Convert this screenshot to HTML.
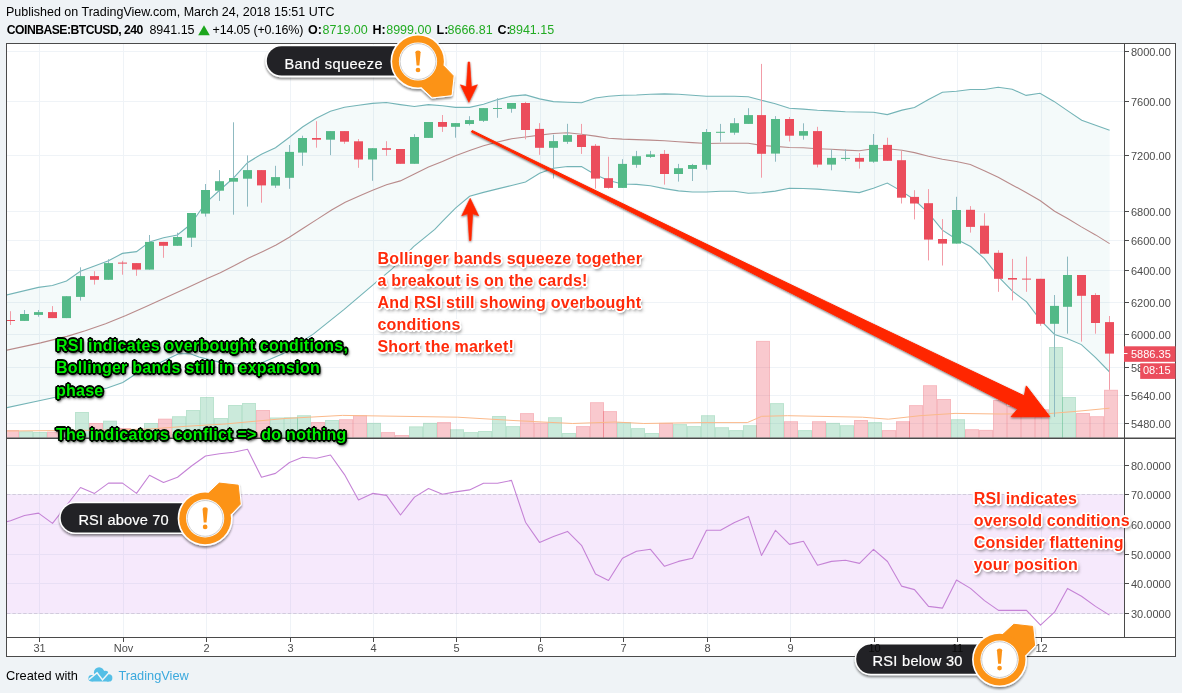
<!DOCTYPE html>
<html><head><meta charset="utf-8"><title>BTCUSD chart</title>
<style>
html,body{margin:0;padding:0}
body{width:1182px;height:693px;background:#eff3f6;position:relative;overflow:hidden;font-family:"Liberation Sans",sans-serif}
.ax{font-family:"Liberation Sans",sans-serif;font-size:11px;fill:#4c4c4c}
.co{font-family:"Liberation Sans",sans-serif;font-size:14.6px;fill:#fff;stroke:#fff;stroke-width:.2px}
.hd{position:absolute;white-space:pre;font-family:"Liberation Sans",sans-serif;font-size:12.5px;color:#000;line-height:16px}
.hd b{font-weight:bold}
.g{color:#22ab22}
.note{position:absolute;white-space:pre;font-family:"Liberation Sans",sans-serif;font-weight:bold;font-size:16px;line-height:22px;letter-spacing:.22px}
.red{color:#ff2a0a;text-shadow:1.00px 0.00px 0 #fff,0.71px 0.71px 0 #fff,0.00px 1.00px 0 #fff,-0.71px 0.71px 0 #fff,-1.00px 0.00px 0 #fff,-0.71px -0.71px 0 #fff,-0.00px -1.00px 0 #fff,0.71px -0.71px 0 #fff,1.70px 0.00px 0 #fff,1.47px 0.85px 0 #fff,0.85px 1.47px 0 #fff,0.00px 1.70px 0 #fff,-0.85px 1.47px 0 #fff,-1.47px 0.85px 0 #fff,-1.70px 0.00px 0 #fff,-1.47px -0.85px 0 #fff,-0.85px -1.47px 0 #fff,-0.00px -1.70px 0 #fff,0.85px -1.47px 0 #fff,1.47px -0.85px 0 #fff,0 0 2.5px #fff,1.5px 3px 3px rgba(60,60,60,.55),1px 2px 4px rgba(60,60,60,.35)}
.grn{color:#00f000;text-shadow:1.00px 0.00px 0 #000,0.71px 0.71px 0 #000,0.00px 1.00px 0 #000,-0.71px 0.71px 0 #000,-1.00px 0.00px 0 #000,-0.71px -0.71px 0 #000,-0.00px -1.00px 0 #000,0.71px -0.71px 0 #000,1.60px 0.00px 0 #001500,1.39px 0.80px 0 #001500,0.80px 1.39px 0 #001500,0.00px 1.60px 0 #001500,-0.80px 1.39px 0 #001500,-1.39px 0.80px 0 #001500,-1.60px 0.00px 0 #001500,-1.39px -0.80px 0 #001500,-0.80px -1.39px 0 #001500,-0.00px -1.60px 0 #001500,0.80px -1.39px 0 #001500,1.39px -0.80px 0 #001500,0 0 2.5px #000,1px 1.5px 3px #000,1px 2px 3.5px rgba(0,0,0,.8)}
</style></head><body>
<svg width="1182" height="693" viewBox="0 0 1182 693" style="position:absolute;left:0;top:0">
<defs>
<clipPath id="pm"><rect x="7" y="44" width="1118" height="394"/></clipPath>
<clipPath id="pr"><rect x="7" y="439" width="1118" height="198"/></clipPath>
<filter id="sh" x="-20%" y="-20%" width="140%" height="150%"><feGaussianBlur in="SourceAlpha" stdDeviation="1.2"/><feOffset dx="0" dy="1.5"/><feComponentTransfer><feFuncA type="linear" slope="0.45"/></feComponentTransfer><feMerge><feMergeNode/><feMergeNode in="SourceGraphic"/></feMerge></filter>
<filter id="ash" x="-5%" y="-5%" width="110%" height="115%"><feGaussianBlur in="SourceAlpha" stdDeviation="0.9"/><feOffset dx="0.4" dy="1"/><feComponentTransfer><feFuncA type="linear" slope="0.55"/></feComponentTransfer><feMerge><feMergeNode/><feMergeNode in="SourceGraphic"/></feMerge></filter>
</defs>
<rect x="6.5" y="43.5" width="1169" height="613" fill="#fff"/>
<g clip-path="url(#pm)">
<line x1="39.5" y1="44" x2="39.5" y2="438" stroke="#eff3f7" stroke-width="1"/>
<line x1="123.5" y1="44" x2="123.5" y2="438" stroke="#eff3f7" stroke-width="1"/>
<line x1="206.5" y1="44" x2="206.5" y2="438" stroke="#eff3f7" stroke-width="1"/>
<line x1="290.5" y1="44" x2="290.5" y2="438" stroke="#eff3f7" stroke-width="1"/>
<line x1="373.5" y1="44" x2="373.5" y2="438" stroke="#eff3f7" stroke-width="1"/>
<line x1="456.5" y1="44" x2="456.5" y2="438" stroke="#eff3f7" stroke-width="1"/>
<line x1="540.5" y1="44" x2="540.5" y2="438" stroke="#eff3f7" stroke-width="1"/>
<line x1="623.5" y1="44" x2="623.5" y2="438" stroke="#eff3f7" stroke-width="1"/>
<line x1="707.5" y1="44" x2="707.5" y2="438" stroke="#eff3f7" stroke-width="1"/>
<line x1="790.5" y1="44" x2="790.5" y2="438" stroke="#eff3f7" stroke-width="1"/>
<line x1="874.5" y1="44" x2="874.5" y2="438" stroke="#eff3f7" stroke-width="1"/>
<line x1="957.5" y1="44" x2="957.5" y2="438" stroke="#eff3f7" stroke-width="1"/>
<line x1="1041.5" y1="44" x2="1041.5" y2="438" stroke="#eff3f7" stroke-width="1"/>
<line x1="7" y1="51.5" x2="1125" y2="51.5" stroke="#eff3f7" stroke-width="1"/>
<line x1="7" y1="101.5" x2="1125" y2="101.5" stroke="#eff3f7" stroke-width="1"/>
<line x1="7" y1="155.5" x2="1125" y2="155.5" stroke="#eff3f7" stroke-width="1"/>
<line x1="7" y1="211.5" x2="1125" y2="211.5" stroke="#eff3f7" stroke-width="1"/>
<line x1="7" y1="240.5" x2="1125" y2="240.5" stroke="#eff3f7" stroke-width="1"/>
<line x1="7" y1="270.5" x2="1125" y2="270.5" stroke="#eff3f7" stroke-width="1"/>
<line x1="7" y1="302.5" x2="1125" y2="302.5" stroke="#eff3f7" stroke-width="1"/>
<line x1="7" y1="334.5" x2="1125" y2="334.5" stroke="#eff3f7" stroke-width="1"/>
<line x1="7" y1="367.5" x2="1125" y2="367.5" stroke="#eff3f7" stroke-width="1"/>
<line x1="7" y1="395.5" x2="1125" y2="395.5" stroke="#eff3f7" stroke-width="1"/>
<line x1="7" y1="423.5" x2="1125" y2="423.5" stroke="#eff3f7" stroke-width="1"/>
<polygon points="6.5,295.0 38.4,287.4 52.4,285.5 66.5,281.0 80.4,271.2 94.5,266.0 108.5,260.8 122.4,253.4 136.5,251.6 149.6,241.9 163.5,237.7 177.4,235.0 187.0,227.3 195.8,217.0 205.5,203.0 219.3,190.5 233.4,178.0 247.5,162.7 261.4,154.2 275.5,147.7 289.5,137.3 302.5,127.0 316.3,118.2 330.4,111.2 344.5,107.3 358.6,105.2 372.4,103.4 386.3,102.5 400.3,104.6 414.4,106.5 428.5,104.6 442.4,105.8 455.5,107.4 469.6,107.4 483.5,104.2 497.6,99.6 511.6,96.1 525.5,94.9 539.6,98.9 553.4,101.6 567.5,102.3 581.5,102.7 595.4,98.0 608.6,96.2 622.4,95.3 636.5,95.0 650.4,94.3 664.5,93.9 678.5,94.3 692.4,95.3 706.5,96.2 720.6,96.2 734.4,96.2 748.3,96.7 761.5,100.3 775.3,103.7 789.4,108.3 803.3,109.1 817.4,110.3 831.3,110.9 845.4,111.7 859.3,112.0 873.4,112.3 887.3,114.6 902.0,110.1 914.5,107.5 928.5,99.4 942.4,92.3 956.4,91.3 970.3,89.5 984.3,89.5 998.2,87.3 1012.2,89.3 1026.1,95.4 1040.0,93.3 1054.0,101.4 1067.8,110.9 1081.7,120.2 1095.6,125.3 1109.6,130.3 1109.6,372.0 1095.6,357.6 1081.4,344.6 1067.6,338.8 1054.6,334.5 1040.4,320.1 1026.6,301.9 1012.4,291.2 998.6,276.8 984.4,258.6 970.6,246.5 956.5,239.3 942.4,230.1 928.3,212.8 914.4,199.8 901.4,191.1 887.3,183.0 873.4,188.2 859.3,192.6 845.4,191.4 831.3,190.2 817.4,189.1 803.3,188.5 789.4,188.2 775.3,191.1 761.5,192.7 748.3,193.2 734.4,191.3 720.6,191.3 706.5,192.0 692.4,192.0 678.5,190.9 664.5,188.6 650.4,185.8 636.5,184.4 622.4,184.0 608.6,180.5 595.4,174.7 581.5,166.6 567.5,166.5 553.4,168.2 539.6,173.2 525.5,182.0 511.6,185.5 497.6,188.9 483.5,192.4 469.6,196.3 455.5,208.1 442.4,221.3 434.8,229.4 413.6,246.6 392.4,268.7 374.2,283.9 343.9,309.7 313.6,333.9 283.3,353.6 262.0,362.7 250.0,364.0 236.0,363.8 219.2,362.1 198.9,357.0 190.4,353.7 178.6,353.7 171.8,357.0 153.0,366.0 134.6,374.8 122.8,382.5 105.8,388.4 80.0,392.0 55.4,397.3 39.1,400.8 6.5,407.7" fill="#2f9c9f" fill-opacity="0.055"/>
<rect x="5.0" y="430.0" width="14" height="7.5" fill="#eb4d5c" fill-opacity="0.3"/>
<rect x="5.5" y="430.5" width="13" height="7.5" fill="none" stroke="#eb4d5c" stroke-opacity="0.13" stroke-width="1"/>
<rect x="19.0" y="431.2" width="14" height="6.3" fill="#53b987" fill-opacity="0.3"/>
<rect x="19.5" y="431.7" width="13" height="6.3" fill="none" stroke="#53b987" stroke-opacity="0.13" stroke-width="1"/>
<rect x="33.0" y="432.0" width="14" height="5.5" fill="#53b987" fill-opacity="0.3"/>
<rect x="33.5" y="432.5" width="13" height="5.5" fill="none" stroke="#53b987" stroke-opacity="0.13" stroke-width="1"/>
<rect x="47.0" y="431.7" width="14" height="5.8" fill="#eb4d5c" fill-opacity="0.3"/>
<rect x="47.5" y="432.2" width="13" height="5.8" fill="none" stroke="#eb4d5c" stroke-opacity="0.13" stroke-width="1"/>
<rect x="61.0" y="430.0" width="14" height="7.5" fill="#53b987" fill-opacity="0.3"/>
<rect x="61.5" y="430.5" width="13" height="7.5" fill="none" stroke="#53b987" stroke-opacity="0.13" stroke-width="1"/>
<rect x="75.0" y="412.0" width="14" height="25.5" fill="#53b987" fill-opacity="0.3"/>
<rect x="75.5" y="412.5" width="13" height="25.5" fill="none" stroke="#53b987" stroke-opacity="0.13" stroke-width="1"/>
<rect x="89.0" y="423.0" width="14" height="14.5" fill="#eb4d5c" fill-opacity="0.3"/>
<rect x="89.5" y="423.5" width="13" height="14.5" fill="none" stroke="#eb4d5c" stroke-opacity="0.13" stroke-width="1"/>
<rect x="103.0" y="420.7" width="14" height="16.8" fill="#53b987" fill-opacity="0.3"/>
<rect x="103.5" y="421.2" width="13" height="16.8" fill="none" stroke="#53b987" stroke-opacity="0.13" stroke-width="1"/>
<rect x="117.0" y="428.0" width="14" height="9.5" fill="#eb4d5c" fill-opacity="0.3"/>
<rect x="117.5" y="428.5" width="13" height="9.5" fill="none" stroke="#eb4d5c" stroke-opacity="0.13" stroke-width="1"/>
<rect x="131.0" y="430.0" width="14" height="7.5" fill="#eb4d5c" fill-opacity="0.3"/>
<rect x="131.5" y="430.5" width="13" height="7.5" fill="none" stroke="#eb4d5c" stroke-opacity="0.13" stroke-width="1"/>
<rect x="144.0" y="423.0" width="14" height="14.5" fill="#53b987" fill-opacity="0.3"/>
<rect x="144.5" y="423.5" width="13" height="14.5" fill="none" stroke="#53b987" stroke-opacity="0.13" stroke-width="1"/>
<rect x="158.0" y="418.7" width="14" height="18.8" fill="#eb4d5c" fill-opacity="0.3"/>
<rect x="158.5" y="419.2" width="13" height="18.8" fill="none" stroke="#eb4d5c" stroke-opacity="0.13" stroke-width="1"/>
<rect x="172.0" y="416.2" width="14" height="21.3" fill="#53b987" fill-opacity="0.3"/>
<rect x="172.5" y="416.7" width="13" height="21.3" fill="none" stroke="#53b987" stroke-opacity="0.13" stroke-width="1"/>
<rect x="186.0" y="410.0" width="14" height="27.5" fill="#53b987" fill-opacity="0.3"/>
<rect x="186.5" y="410.5" width="13" height="27.5" fill="none" stroke="#53b987" stroke-opacity="0.13" stroke-width="1"/>
<rect x="200.0" y="397.0" width="14" height="40.5" fill="#53b987" fill-opacity="0.3"/>
<rect x="200.5" y="397.5" width="13" height="40.5" fill="none" stroke="#53b987" stroke-opacity="0.13" stroke-width="1"/>
<rect x="214.0" y="418.0" width="14" height="19.5" fill="#53b987" fill-opacity="0.3"/>
<rect x="214.5" y="418.5" width="13" height="19.5" fill="none" stroke="#53b987" stroke-opacity="0.13" stroke-width="1"/>
<rect x="228.0" y="405.0" width="14" height="32.5" fill="#53b987" fill-opacity="0.3"/>
<rect x="228.5" y="405.5" width="13" height="32.5" fill="none" stroke="#53b987" stroke-opacity="0.13" stroke-width="1"/>
<rect x="242.0" y="403.0" width="14" height="34.5" fill="#53b987" fill-opacity="0.3"/>
<rect x="242.5" y="403.5" width="13" height="34.5" fill="none" stroke="#53b987" stroke-opacity="0.13" stroke-width="1"/>
<rect x="256.0" y="410.0" width="14" height="27.5" fill="#eb4d5c" fill-opacity="0.3"/>
<rect x="256.5" y="410.5" width="13" height="27.5" fill="none" stroke="#eb4d5c" stroke-opacity="0.13" stroke-width="1"/>
<rect x="270.0" y="417.5" width="14" height="20.0" fill="#53b987" fill-opacity="0.3"/>
<rect x="270.5" y="418.0" width="13" height="20.0" fill="none" stroke="#53b987" stroke-opacity="0.13" stroke-width="1"/>
<rect x="284.0" y="417.2" width="14" height="20.3" fill="#53b987" fill-opacity="0.3"/>
<rect x="284.5" y="417.7" width="13" height="20.3" fill="none" stroke="#53b987" stroke-opacity="0.13" stroke-width="1"/>
<rect x="297.0" y="415.2" width="14" height="22.3" fill="#53b987" fill-opacity="0.3"/>
<rect x="297.5" y="415.7" width="13" height="22.3" fill="none" stroke="#53b987" stroke-opacity="0.13" stroke-width="1"/>
<rect x="311.0" y="422.0" width="14" height="15.5" fill="#eb4d5c" fill-opacity="0.3"/>
<rect x="311.5" y="422.5" width="13" height="15.5" fill="none" stroke="#eb4d5c" stroke-opacity="0.13" stroke-width="1"/>
<rect x="325.0" y="420.0" width="14" height="17.5" fill="#53b987" fill-opacity="0.3"/>
<rect x="325.5" y="420.5" width="13" height="17.5" fill="none" stroke="#53b987" stroke-opacity="0.13" stroke-width="1"/>
<rect x="339.0" y="419.2" width="14" height="18.3" fill="#eb4d5c" fill-opacity="0.3"/>
<rect x="339.5" y="419.7" width="13" height="18.3" fill="none" stroke="#eb4d5c" stroke-opacity="0.13" stroke-width="1"/>
<rect x="353.0" y="415.2" width="14" height="22.3" fill="#eb4d5c" fill-opacity="0.3"/>
<rect x="353.5" y="415.7" width="13" height="22.3" fill="none" stroke="#eb4d5c" stroke-opacity="0.13" stroke-width="1"/>
<rect x="367.0" y="422.9" width="14" height="14.6" fill="#53b987" fill-opacity="0.3"/>
<rect x="367.5" y="423.4" width="13" height="14.6" fill="none" stroke="#53b987" stroke-opacity="0.13" stroke-width="1"/>
<rect x="381.0" y="432.1" width="14" height="5.4" fill="#eb4d5c" fill-opacity="0.3"/>
<rect x="381.5" y="432.6" width="13" height="5.4" fill="none" stroke="#eb4d5c" stroke-opacity="0.13" stroke-width="1"/>
<rect x="395.0" y="435.0" width="14" height="2.5" fill="#eb4d5c" fill-opacity="0.3"/>
<rect x="395.5" y="435.5" width="13" height="2.5" fill="none" stroke="#eb4d5c" stroke-opacity="0.13" stroke-width="1"/>
<rect x="409.0" y="426.4" width="14" height="11.1" fill="#53b987" fill-opacity="0.3"/>
<rect x="409.5" y="426.9" width="13" height="11.1" fill="none" stroke="#53b987" stroke-opacity="0.13" stroke-width="1"/>
<rect x="423.0" y="422.9" width="14" height="14.6" fill="#53b987" fill-opacity="0.3"/>
<rect x="423.5" y="423.4" width="13" height="14.6" fill="none" stroke="#53b987" stroke-opacity="0.13" stroke-width="1"/>
<rect x="437.0" y="422.1" width="14" height="15.4" fill="#eb4d5c" fill-opacity="0.3"/>
<rect x="437.5" y="422.6" width="13" height="15.4" fill="none" stroke="#eb4d5c" stroke-opacity="0.13" stroke-width="1"/>
<rect x="450.0" y="429.3" width="14" height="8.2" fill="#53b987" fill-opacity="0.3"/>
<rect x="450.5" y="429.8" width="13" height="8.2" fill="none" stroke="#53b987" stroke-opacity="0.13" stroke-width="1"/>
<rect x="464.0" y="432.1" width="14" height="5.4" fill="#53b987" fill-opacity="0.3"/>
<rect x="464.5" y="432.6" width="13" height="5.4" fill="none" stroke="#53b987" stroke-opacity="0.13" stroke-width="1"/>
<rect x="478.0" y="431.0" width="14" height="6.5" fill="#53b987" fill-opacity="0.3"/>
<rect x="478.5" y="431.5" width="13" height="6.5" fill="none" stroke="#53b987" stroke-opacity="0.13" stroke-width="1"/>
<rect x="492.0" y="416.0" width="14" height="21.5" fill="#53b987" fill-opacity="0.3"/>
<rect x="492.5" y="416.5" width="13" height="21.5" fill="none" stroke="#53b987" stroke-opacity="0.13" stroke-width="1"/>
<rect x="506.0" y="426.1" width="14" height="11.4" fill="#53b987" fill-opacity="0.3"/>
<rect x="506.5" y="426.6" width="13" height="11.4" fill="none" stroke="#53b987" stroke-opacity="0.13" stroke-width="1"/>
<rect x="520.0" y="413.1" width="14" height="24.4" fill="#eb4d5c" fill-opacity="0.3"/>
<rect x="520.5" y="413.6" width="13" height="24.4" fill="none" stroke="#eb4d5c" stroke-opacity="0.13" stroke-width="1"/>
<rect x="534.0" y="422.6" width="14" height="14.9" fill="#eb4d5c" fill-opacity="0.3"/>
<rect x="534.5" y="423.1" width="13" height="14.9" fill="none" stroke="#eb4d5c" stroke-opacity="0.13" stroke-width="1"/>
<rect x="548.0" y="417.2" width="14" height="20.3" fill="#53b987" fill-opacity="0.3"/>
<rect x="548.5" y="417.7" width="13" height="20.3" fill="none" stroke="#53b987" stroke-opacity="0.13" stroke-width="1"/>
<rect x="562.0" y="433.0" width="14" height="4.5" fill="#53b987" fill-opacity="0.3"/>
<rect x="562.5" y="433.5" width="13" height="4.5" fill="none" stroke="#53b987" stroke-opacity="0.13" stroke-width="1"/>
<rect x="576.0" y="426.1" width="14" height="11.4" fill="#eb4d5c" fill-opacity="0.3"/>
<rect x="576.5" y="426.6" width="13" height="11.4" fill="none" stroke="#eb4d5c" stroke-opacity="0.13" stroke-width="1"/>
<rect x="590.0" y="402.2" width="14" height="35.3" fill="#eb4d5c" fill-opacity="0.3"/>
<rect x="590.5" y="402.7" width="13" height="35.3" fill="none" stroke="#eb4d5c" stroke-opacity="0.13" stroke-width="1"/>
<rect x="603.0" y="411.1" width="14" height="26.4" fill="#eb4d5c" fill-opacity="0.3"/>
<rect x="603.5" y="411.6" width="13" height="26.4" fill="none" stroke="#eb4d5c" stroke-opacity="0.13" stroke-width="1"/>
<rect x="617.0" y="422.1" width="14" height="15.4" fill="#53b987" fill-opacity="0.3"/>
<rect x="617.5" y="422.6" width="13" height="15.4" fill="none" stroke="#53b987" stroke-opacity="0.13" stroke-width="1"/>
<rect x="631.0" y="428.1" width="14" height="9.4" fill="#53b987" fill-opacity="0.3"/>
<rect x="631.5" y="428.6" width="13" height="9.4" fill="none" stroke="#53b987" stroke-opacity="0.13" stroke-width="1"/>
<rect x="645.0" y="433.0" width="14" height="4.5" fill="#53b987" fill-opacity="0.3"/>
<rect x="645.5" y="433.5" width="13" height="4.5" fill="none" stroke="#53b987" stroke-opacity="0.13" stroke-width="1"/>
<rect x="659.0" y="422.9" width="14" height="14.6" fill="#eb4d5c" fill-opacity="0.3"/>
<rect x="659.5" y="423.4" width="13" height="14.6" fill="none" stroke="#eb4d5c" stroke-opacity="0.13" stroke-width="1"/>
<rect x="673.0" y="424.1" width="14" height="13.4" fill="#53b987" fill-opacity="0.3"/>
<rect x="673.5" y="424.6" width="13" height="13.4" fill="none" stroke="#53b987" stroke-opacity="0.13" stroke-width="1"/>
<rect x="687.0" y="426.1" width="14" height="11.4" fill="#53b987" fill-opacity="0.3"/>
<rect x="687.5" y="426.6" width="13" height="11.4" fill="none" stroke="#53b987" stroke-opacity="0.13" stroke-width="1"/>
<rect x="701.0" y="415.2" width="14" height="22.3" fill="#53b987" fill-opacity="0.3"/>
<rect x="701.5" y="415.7" width="13" height="22.3" fill="none" stroke="#53b987" stroke-opacity="0.13" stroke-width="1"/>
<rect x="715.0" y="427.2" width="14" height="10.3" fill="#53b987" fill-opacity="0.3"/>
<rect x="715.5" y="427.7" width="13" height="10.3" fill="none" stroke="#53b987" stroke-opacity="0.13" stroke-width="1"/>
<rect x="729.0" y="430.1" width="14" height="7.4" fill="#53b987" fill-opacity="0.3"/>
<rect x="729.5" y="430.6" width="13" height="7.4" fill="none" stroke="#53b987" stroke-opacity="0.13" stroke-width="1"/>
<rect x="743.0" y="425.2" width="14" height="12.3" fill="#53b987" fill-opacity="0.3"/>
<rect x="743.5" y="425.7" width="13" height="12.3" fill="none" stroke="#53b987" stroke-opacity="0.13" stroke-width="1"/>
<rect x="756.0" y="340.9" width="14" height="96.6" fill="#eb4d5c" fill-opacity="0.3"/>
<rect x="756.5" y="341.4" width="13" height="96.6" fill="none" stroke="#eb4d5c" stroke-opacity="0.13" stroke-width="1"/>
<rect x="770.0" y="403.1" width="14" height="34.4" fill="#53b987" fill-opacity="0.3"/>
<rect x="770.5" y="403.6" width="13" height="34.4" fill="none" stroke="#53b987" stroke-opacity="0.13" stroke-width="1"/>
<rect x="784.0" y="421.2" width="14" height="16.3" fill="#eb4d5c" fill-opacity="0.3"/>
<rect x="784.5" y="421.7" width="13" height="16.3" fill="none" stroke="#eb4d5c" stroke-opacity="0.13" stroke-width="1"/>
<rect x="798.0" y="430.1" width="14" height="7.4" fill="#53b987" fill-opacity="0.3"/>
<rect x="798.5" y="430.6" width="13" height="7.4" fill="none" stroke="#53b987" stroke-opacity="0.13" stroke-width="1"/>
<rect x="812.0" y="421.2" width="14" height="16.3" fill="#eb4d5c" fill-opacity="0.3"/>
<rect x="812.5" y="421.7" width="13" height="16.3" fill="none" stroke="#eb4d5c" stroke-opacity="0.13" stroke-width="1"/>
<rect x="826.0" y="422.9" width="14" height="14.6" fill="#53b987" fill-opacity="0.3"/>
<rect x="826.5" y="423.4" width="13" height="14.6" fill="none" stroke="#53b987" stroke-opacity="0.13" stroke-width="1"/>
<rect x="840.0" y="425.2" width="14" height="12.3" fill="#53b987" fill-opacity="0.3"/>
<rect x="840.5" y="425.7" width="13" height="12.3" fill="none" stroke="#53b987" stroke-opacity="0.13" stroke-width="1"/>
<rect x="854.0" y="420.0" width="14" height="17.5" fill="#eb4d5c" fill-opacity="0.3"/>
<rect x="854.5" y="420.5" width="13" height="17.5" fill="none" stroke="#eb4d5c" stroke-opacity="0.13" stroke-width="1"/>
<rect x="868.0" y="422.1" width="14" height="15.4" fill="#53b987" fill-opacity="0.3"/>
<rect x="868.5" y="422.6" width="13" height="15.4" fill="none" stroke="#53b987" stroke-opacity="0.13" stroke-width="1"/>
<rect x="882.0" y="430.1" width="14" height="7.4" fill="#eb4d5c" fill-opacity="0.3"/>
<rect x="882.5" y="430.6" width="13" height="7.4" fill="none" stroke="#eb4d5c" stroke-opacity="0.13" stroke-width="1"/>
<rect x="896.0" y="421.2" width="14" height="16.3" fill="#eb4d5c" fill-opacity="0.3"/>
<rect x="896.5" y="421.7" width="13" height="16.3" fill="none" stroke="#eb4d5c" stroke-opacity="0.13" stroke-width="1"/>
<rect x="909.0" y="405.1" width="14" height="32.4" fill="#eb4d5c" fill-opacity="0.3"/>
<rect x="909.5" y="405.6" width="13" height="32.4" fill="none" stroke="#eb4d5c" stroke-opacity="0.13" stroke-width="1"/>
<rect x="923.0" y="385.2" width="14" height="52.3" fill="#eb4d5c" fill-opacity="0.3"/>
<rect x="923.5" y="385.7" width="13" height="52.3" fill="none" stroke="#eb4d5c" stroke-opacity="0.13" stroke-width="1"/>
<rect x="937.0" y="399.0" width="14" height="38.5" fill="#eb4d5c" fill-opacity="0.3"/>
<rect x="937.5" y="399.5" width="13" height="38.5" fill="none" stroke="#eb4d5c" stroke-opacity="0.13" stroke-width="1"/>
<rect x="951.0" y="419.2" width="14" height="18.3" fill="#53b987" fill-opacity="0.3"/>
<rect x="951.5" y="419.7" width="13" height="18.3" fill="none" stroke="#53b987" stroke-opacity="0.13" stroke-width="1"/>
<rect x="965.0" y="429.2" width="14" height="8.3" fill="#eb4d5c" fill-opacity="0.3"/>
<rect x="965.5" y="429.7" width="13" height="8.3" fill="none" stroke="#eb4d5c" stroke-opacity="0.13" stroke-width="1"/>
<rect x="979.0" y="429.9" width="14" height="7.6" fill="#eb4d5c" fill-opacity="0.3"/>
<rect x="979.5" y="430.4" width="13" height="7.6" fill="none" stroke="#eb4d5c" stroke-opacity="0.13" stroke-width="1"/>
<rect x="993.0" y="400.0" width="14" height="37.5" fill="#eb4d5c" fill-opacity="0.3"/>
<rect x="993.5" y="400.5" width="13" height="37.5" fill="none" stroke="#eb4d5c" stroke-opacity="0.13" stroke-width="1"/>
<rect x="1007.0" y="406.0" width="14" height="31.5" fill="#eb4d5c" fill-opacity="0.3"/>
<rect x="1007.5" y="406.5" width="13" height="31.5" fill="none" stroke="#eb4d5c" stroke-opacity="0.13" stroke-width="1"/>
<rect x="1021.0" y="408.0" width="14" height="29.5" fill="#eb4d5c" fill-opacity="0.3"/>
<rect x="1021.5" y="408.5" width="13" height="29.5" fill="none" stroke="#eb4d5c" stroke-opacity="0.13" stroke-width="1"/>
<rect x="1035.0" y="409.3" width="14" height="28.2" fill="#eb4d5c" fill-opacity="0.3"/>
<rect x="1035.5" y="409.8" width="13" height="28.2" fill="none" stroke="#eb4d5c" stroke-opacity="0.13" stroke-width="1"/>
<rect x="1049.0" y="347.0" width="14" height="90.5" fill="#53b987" fill-opacity="0.3"/>
<rect x="1049.5" y="347.5" width="13" height="90.5" fill="none" stroke="#53b987" stroke-opacity="0.13" stroke-width="1"/>
<rect x="1062.0" y="397.0" width="14" height="40.5" fill="#53b987" fill-opacity="0.3"/>
<rect x="1062.5" y="397.5" width="13" height="40.5" fill="none" stroke="#53b987" stroke-opacity="0.13" stroke-width="1"/>
<rect x="1076.0" y="413.0" width="14" height="24.5" fill="#eb4d5c" fill-opacity="0.3"/>
<rect x="1076.5" y="413.5" width="13" height="24.5" fill="none" stroke="#eb4d5c" stroke-opacity="0.13" stroke-width="1"/>
<rect x="1090.0" y="416.2" width="14" height="21.3" fill="#eb4d5c" fill-opacity="0.3"/>
<rect x="1090.5" y="416.7" width="13" height="21.3" fill="none" stroke="#eb4d5c" stroke-opacity="0.13" stroke-width="1"/>
<rect x="1104.0" y="389.8" width="14" height="47.7" fill="#eb4d5c" fill-opacity="0.3"/>
<rect x="1104.5" y="390.3" width="13" height="47.7" fill="none" stroke="#eb4d5c" stroke-opacity="0.13" stroke-width="1"/>
<polyline points="6.5,431.0 100.0,430.2 150.0,429.0 186.0,426.3 225.0,424.0 263.0,420.5 285.0,418.5 342.5,415.4 400.0,416.3 457.6,417.2 515.0,420.6 572.7,423.5 615.0,422.0 643.8,423.5 701.3,422.6 747.3,422.6 761.7,416.3 787.6,415.7 862.4,417.2 888.3,419.2 920.0,415.7 955.0,413.4 1000.0,414.0 1049.0,413.6 1080.0,411.0 1109.5,408.2" fill="none" stroke="#fbb98a" stroke-width="1"/>
<polyline points="6.5,295.0 38.4,287.4 52.4,285.5 66.5,281.0 80.4,271.2 94.5,266.0 108.5,260.8 122.4,253.4 136.5,251.6 149.6,241.9 163.5,237.7 177.4,235.0 187.0,227.3 195.8,217.0 205.5,203.0 219.3,190.5 233.4,178.0 247.5,162.7 261.4,154.2 275.5,147.7 289.5,137.3 302.5,127.0 316.3,118.2 330.4,111.2 344.5,107.3 358.6,105.2 372.4,103.4 386.3,102.5 400.3,104.6 414.4,106.5 428.5,104.6 442.4,105.8 455.5,107.4 469.6,107.4 483.5,104.2 497.6,99.6 511.6,96.1 525.5,94.9 539.6,98.9 553.4,101.6 567.5,102.3 581.5,102.7 595.4,98.0 608.6,96.2 622.4,95.3 636.5,95.0 650.4,94.3 664.5,93.9 678.5,94.3 692.4,95.3 706.5,96.2 720.6,96.2 734.4,96.2 748.3,96.7 761.5,100.3 775.3,103.7 789.4,108.3 803.3,109.1 817.4,110.3 831.3,110.9 845.4,111.7 859.3,112.0 873.4,112.3 887.3,114.6 902.0,110.1 914.5,107.5 928.5,99.4 942.4,92.3 956.4,91.3 970.3,89.5 984.3,89.5 998.2,87.3 1012.2,89.3 1026.1,95.4 1040.0,93.3 1054.0,101.4 1067.8,110.9 1081.7,120.2 1095.6,125.3 1109.6,130.3" fill="none" stroke="#74b4b7" stroke-width="1.1"/>
<polyline points="6.5,407.7 39.1,400.8 55.4,397.3 80.0,392.0 105.8,388.4 122.8,382.5 134.6,374.8 153.0,366.0 171.8,357.0 178.6,353.7 190.4,353.7 198.9,357.0 219.2,362.1 236.0,363.8 250.0,364.0 262.0,362.7 283.3,353.6 313.6,333.9 343.9,309.7 374.2,283.9 392.4,268.7 413.6,246.6 434.8,229.4 442.4,221.3 455.5,208.1 469.6,196.3 483.5,192.4 497.6,188.9 511.6,185.5 525.5,182.0 539.6,173.2 553.4,168.2 567.5,166.5 581.5,166.6 595.4,174.7 608.6,180.5 622.4,184.0 636.5,184.4 650.4,185.8 664.5,188.6 678.5,190.9 692.4,192.0 706.5,192.0 720.6,191.3 734.4,191.3 748.3,193.2 761.5,192.7 775.3,191.1 789.4,188.2 803.3,188.5 817.4,189.1 831.3,190.2 845.4,191.4 859.3,192.6 873.4,188.2 887.3,183.0 901.4,191.1 914.4,199.8 928.3,212.8 942.4,230.1 956.5,239.3 970.6,246.5 984.4,258.6 998.6,276.8 1012.4,291.2 1026.6,301.9 1040.4,320.1 1054.6,334.5 1067.6,338.8 1081.4,344.6 1095.6,357.6 1109.6,372.0" fill="none" stroke="#74b4b7" stroke-width="1.1"/>
<polyline points="6.5,350.2 40.6,342.9 67.0,336.4 85.3,330.8 105.6,323.7 125.9,315.5 146.2,306.4 166.5,297.3 186.8,288.1 207.7,278.2 220.3,272.7 234.5,265.6 248.7,258.1 262.9,251.4 276.1,244.9 289.3,237.2 303.6,228.0 317.8,218.9 332.0,209.7 345.2,202.2 360.4,195.5 372.6,190.3 386.5,184.7 400.3,180.9 414.4,173.9 428.5,167.0 442.4,161.4 455.5,155.7 469.6,150.4 483.5,145.7 497.6,142.0 511.6,138.8 525.5,137.0 539.6,135.1 553.4,133.5 567.5,132.8 581.5,134.3 595.4,136.1 608.6,138.2 622.4,139.1 636.5,139.6 650.4,140.1 664.5,140.8 678.5,141.7 692.4,142.6 706.5,143.5 720.6,143.3 734.4,143.3 748.3,143.3 761.5,145.4 775.3,146.4 789.4,147.5 803.3,147.8 817.4,148.7 831.3,149.3 845.4,150.1 859.3,150.7 873.4,148.7 887.3,148.7 902.0,150.3 914.5,152.6 928.5,156.2 942.4,159.2 956.4,161.5 970.3,164.5 984.3,170.8 998.2,177.2 1012.2,184.9 1026.1,192.4 1040.0,200.5 1054.6,211.3 1067.6,218.5 1081.4,226.9 1095.6,234.9 1109.6,243.6" fill="none" stroke="#b98b8b" stroke-width="1.1"/>
<rect x="10" y="311.2" width="1" height="13.8" fill="#f29ca7"/>
<rect x="6" y="320.0" width="9" height="1.0" fill="#eb4d5c"/>
<rect x="24" y="310.0" width="1" height="10.9" fill="#8fbac1"/>
<rect x="20" y="314.0" width="9" height="6.9" fill="#53b987"/>
<rect x="38" y="310.0" width="1" height="6.7" fill="#8fbac1"/>
<rect x="34" y="312.1" width="9" height="2.8" fill="#53b987"/>
<rect x="52" y="306.1" width="1" height="12.0" fill="#f29ca7"/>
<rect x="48" y="312.1" width="9" height="6.0" fill="#eb4d5c"/>
<rect x="66" y="296.2" width="1" height="21.9" fill="#8fbac1"/>
<rect x="62" y="296.2" width="9" height="21.9" fill="#53b987"/>
<rect x="80" y="267.3" width="1" height="33.3" fill="#8fbac1"/>
<rect x="76" y="276.1" width="9" height="20.8" fill="#53b987"/>
<rect x="94" y="271.2" width="1" height="13.4" fill="#f29ca7"/>
<rect x="90" y="276.1" width="9" height="3.7" fill="#eb4d5c"/>
<rect x="108" y="259.2" width="1" height="20.6" fill="#8fbac1"/>
<rect x="104" y="263.1" width="9" height="16.7" fill="#53b987"/>
<rect x="122" y="260.8" width="1" height="13.9" fill="#f29ca7"/>
<rect x="118" y="262.6" width="9" height="1.0" fill="#eb4d5c"/>
<rect x="136" y="263.1" width="1" height="12.7" fill="#f29ca7"/>
<rect x="132" y="263.1" width="9" height="6.5" fill="#eb4d5c"/>
<rect x="149" y="235.0" width="1" height="34.6" fill="#8fbac1"/>
<rect x="145" y="241.9" width="9" height="27.7" fill="#53b987"/>
<rect x="163" y="241.9" width="1" height="15.9" fill="#f29ca7"/>
<rect x="159" y="241.9" width="9" height="3.9" fill="#eb4d5c"/>
<rect x="177" y="232.7" width="1" height="13.1" fill="#8fbac1"/>
<rect x="173" y="237.0" width="9" height="8.8" fill="#53b987"/>
<rect x="191" y="213.0" width="1" height="34.0" fill="#8fbac1"/>
<rect x="187" y="213.0" width="9" height="24.7" fill="#53b987"/>
<rect x="205" y="184.0" width="1" height="32.6" fill="#8fbac1"/>
<rect x="201" y="190.0" width="9" height="23.6" fill="#53b987"/>
<rect x="219" y="170.1" width="1" height="30.8" fill="#8fbac1"/>
<rect x="215" y="181.2" width="9" height="9.5" fill="#53b987"/>
<rect x="233" y="122.3" width="1" height="92.4" fill="#8fbac1"/>
<rect x="229" y="178.0" width="9" height="3.7" fill="#53b987"/>
<rect x="247" y="155.4" width="1" height="51.2" fill="#8fbac1"/>
<rect x="243" y="170.1" width="9" height="8.6" fill="#53b987"/>
<rect x="261" y="170.1" width="1" height="32.6" fill="#f29ca7"/>
<rect x="257" y="170.1" width="9" height="15.3" fill="#eb4d5c"/>
<rect x="275" y="165.8" width="1" height="22.1" fill="#8fbac1"/>
<rect x="271" y="177.1" width="9" height="8.5" fill="#53b987"/>
<rect x="289" y="145.0" width="1" height="43.8" fill="#8fbac1"/>
<rect x="285" y="151.9" width="9" height="25.9" fill="#53b987"/>
<rect x="302" y="135.7" width="1" height="30.1" fill="#8fbac1"/>
<rect x="298" y="138.0" width="9" height="14.6" fill="#53b987"/>
<rect x="316" y="121.2" width="1" height="26.5" fill="#f29ca7"/>
<rect x="312" y="138.0" width="9" height="1.7" fill="#eb4d5c"/>
<rect x="330" y="131.1" width="1" height="24.0" fill="#8fbac1"/>
<rect x="326" y="131.1" width="9" height="8.6" fill="#53b987"/>
<rect x="344" y="131.1" width="1" height="12.7" fill="#f29ca7"/>
<rect x="340" y="131.1" width="9" height="10.6" fill="#eb4d5c"/>
<rect x="358" y="139.0" width="1" height="28.8" fill="#f29ca7"/>
<rect x="354" y="141.3" width="9" height="18.2" fill="#eb4d5c"/>
<rect x="372" y="148.2" width="1" height="32.6" fill="#8fbac1"/>
<rect x="368" y="148.2" width="9" height="11.3" fill="#53b987"/>
<rect x="386" y="141.2" width="1" height="14.6" fill="#f29ca7"/>
<rect x="382" y="148.2" width="9" height="1.6" fill="#eb4d5c"/>
<rect x="400" y="149.0" width="1" height="14.8" fill="#f29ca7"/>
<rect x="396" y="149.0" width="9" height="14.8" fill="#eb4d5c"/>
<rect x="414" y="134.2" width="1" height="29.6" fill="#8fbac1"/>
<rect x="410" y="137.0" width="9" height="26.8" fill="#53b987"/>
<rect x="428" y="122.0" width="1" height="15.9" fill="#8fbac1"/>
<rect x="424" y="122.0" width="9" height="15.9" fill="#53b987"/>
<rect x="442" y="115.0" width="1" height="16.9" fill="#f29ca7"/>
<rect x="438" y="122.0" width="9" height="4.8" fill="#eb4d5c"/>
<rect x="455" y="123.1" width="1" height="14.6" fill="#8fbac1"/>
<rect x="451" y="123.1" width="9" height="3.7" fill="#53b987"/>
<rect x="469" y="116.2" width="1" height="9.2" fill="#8fbac1"/>
<rect x="465" y="120.1" width="9" height="3.9" fill="#53b987"/>
<rect x="483" y="108.1" width="1" height="13.9" fill="#8fbac1"/>
<rect x="479" y="108.1" width="9" height="12.7" fill="#53b987"/>
<rect x="497" y="98.2" width="1" height="19.6" fill="#8fbac1"/>
<rect x="493" y="108.0" width="9" height="1.0" fill="#53b987"/>
<rect x="511" y="103.0" width="1" height="9.7" fill="#8fbac1"/>
<rect x="507" y="103.0" width="9" height="5.8" fill="#53b987"/>
<rect x="525" y="101.9" width="1" height="37.4" fill="#f29ca7"/>
<rect x="521" y="103.0" width="9" height="27.0" fill="#eb4d5c"/>
<rect x="539" y="123.1" width="1" height="31.7" fill="#f29ca7"/>
<rect x="535" y="128.9" width="9" height="18.9" fill="#eb4d5c"/>
<rect x="553" y="134.7" width="1" height="43.8" fill="#8fbac1"/>
<rect x="549" y="141.1" width="9" height="6.7" fill="#53b987"/>
<rect x="567" y="123.8" width="1" height="20.1" fill="#8fbac1"/>
<rect x="563" y="135.1" width="9" height="6.7" fill="#53b987"/>
<rect x="581" y="123.9" width="1" height="30.0" fill="#f29ca7"/>
<rect x="577" y="135.0" width="9" height="12.0" fill="#eb4d5c"/>
<rect x="595" y="144.0" width="1" height="44.6" fill="#f29ca7"/>
<rect x="591" y="145.8" width="9" height="32.8" fill="#eb4d5c"/>
<rect x="608" y="156.7" width="1" height="31.9" fill="#f29ca7"/>
<rect x="604" y="178.2" width="9" height="9.7" fill="#eb4d5c"/>
<rect x="622" y="159.2" width="1" height="28.7" fill="#8fbac1"/>
<rect x="618" y="163.9" width="9" height="24.0" fill="#53b987"/>
<rect x="636" y="150.9" width="1" height="16.9" fill="#8fbac1"/>
<rect x="632" y="156.2" width="9" height="8.6" fill="#53b987"/>
<rect x="650" y="150.9" width="1" height="7.0" fill="#8fbac1"/>
<rect x="646" y="154.4" width="9" height="2.5" fill="#53b987"/>
<rect x="664" y="150.0" width="1" height="34.6" fill="#f29ca7"/>
<rect x="660" y="153.9" width="9" height="20.1" fill="#eb4d5c"/>
<rect x="678" y="163.9" width="1" height="17.7" fill="#8fbac1"/>
<rect x="674" y="168.2" width="9" height="5.8" fill="#53b987"/>
<rect x="692" y="163.9" width="1" height="17.1" fill="#8fbac1"/>
<rect x="688" y="165.0" width="9" height="3.9" fill="#53b987"/>
<rect x="706" y="129.0" width="1" height="40.6" fill="#8fbac1"/>
<rect x="702" y="132.0" width="9" height="32.8" fill="#53b987"/>
<rect x="720" y="123.9" width="1" height="17.8" fill="#8fbac1"/>
<rect x="716" y="131.8" width="9" height="1.0" fill="#53b987"/>
<rect x="734" y="118.1" width="1" height="16.7" fill="#8fbac1"/>
<rect x="730" y="123.2" width="9" height="9.5" fill="#53b987"/>
<rect x="748" y="108.2" width="1" height="15.7" fill="#8fbac1"/>
<rect x="744" y="115.1" width="9" height="8.8" fill="#53b987"/>
<rect x="761" y="63.9" width="1" height="113.8" fill="#f29ca7"/>
<rect x="757" y="115.1" width="9" height="38.7" fill="#eb4d5c"/>
<rect x="775" y="116.1" width="1" height="45.6" fill="#8fbac1"/>
<rect x="771" y="119.0" width="9" height="34.6" fill="#53b987"/>
<rect x="789" y="117.0" width="1" height="24.5" fill="#f29ca7"/>
<rect x="785" y="119.0" width="9" height="16.7" fill="#eb4d5c"/>
<rect x="803" y="123.3" width="1" height="16.4" fill="#8fbac1"/>
<rect x="799" y="131.1" width="9" height="4.6" fill="#53b987"/>
<rect x="817" y="126.8" width="1" height="40.6" fill="#f29ca7"/>
<rect x="813" y="131.1" width="9" height="33.5" fill="#eb4d5c"/>
<rect x="831" y="149.3" width="1" height="21.0" fill="#8fbac1"/>
<rect x="827" y="157.9" width="9" height="6.7" fill="#53b987"/>
<rect x="845" y="149.3" width="1" height="11.5" fill="#8fbac1"/>
<rect x="841" y="157.9" width="9" height="1.0" fill="#53b987"/>
<rect x="859" y="153.0" width="1" height="15.6" fill="#f29ca7"/>
<rect x="855" y="157.9" width="9" height="3.8" fill="#eb4d5c"/>
<rect x="873" y="134.0" width="1" height="28.8" fill="#8fbac1"/>
<rect x="869" y="144.9" width="9" height="16.8" fill="#53b987"/>
<rect x="887" y="137.7" width="1" height="23.1" fill="#f29ca7"/>
<rect x="883" y="144.9" width="9" height="15.9" fill="#eb4d5c"/>
<rect x="901" y="150.7" width="1" height="52.8" fill="#f29ca7"/>
<rect x="897" y="160.2" width="9" height="37.5" fill="#eb4d5c"/>
<rect x="914" y="190.2" width="1" height="29.2" fill="#f29ca7"/>
<rect x="910" y="196.9" width="9" height="6.6" fill="#eb4d5c"/>
<rect x="928" y="189.1" width="1" height="71.3" fill="#f29ca7"/>
<rect x="924" y="203.2" width="9" height="36.4" fill="#eb4d5c"/>
<rect x="942" y="219.1" width="1" height="46.4" fill="#f29ca7"/>
<rect x="938" y="239.0" width="9" height="4.6" fill="#eb4d5c"/>
<rect x="956" y="196.8" width="1" height="46.8" fill="#8fbac1"/>
<rect x="952" y="210.0" width="9" height="33.6" fill="#53b987"/>
<rect x="970" y="206.1" width="1" height="26.5" fill="#f29ca7"/>
<rect x="966" y="209.8" width="9" height="17.1" fill="#eb4d5c"/>
<rect x="984" y="213.3" width="1" height="40.4" fill="#f29ca7"/>
<rect x="980" y="225.7" width="9" height="28.0" fill="#eb4d5c"/>
<rect x="998" y="250.2" width="1" height="41.6" fill="#f29ca7"/>
<rect x="994" y="252.8" width="9" height="26.0" fill="#eb4d5c"/>
<rect x="1012" y="258.9" width="1" height="41.5" fill="#f29ca7"/>
<rect x="1008" y="278.0" width="9" height="1.6" fill="#eb4d5c"/>
<rect x="1026" y="256.6" width="1" height="35.2" fill="#f29ca7"/>
<rect x="1022" y="278.6" width="9" height="1.0" fill="#eb4d5c"/>
<rect x="1040" y="278.8" width="1" height="47.0" fill="#f29ca7"/>
<rect x="1036" y="278.8" width="9" height="45.0" fill="#eb4d5c"/>
<rect x="1054" y="295.0" width="1" height="121.9" fill="#8fbac1"/>
<rect x="1050" y="305.9" width="9" height="17.9" fill="#53b987"/>
<rect x="1067" y="256.6" width="1" height="77.1" fill="#8fbac1"/>
<rect x="1063" y="275.0" width="9" height="31.8" fill="#53b987"/>
<rect x="1081" y="275.0" width="1" height="66.6" fill="#f29ca7"/>
<rect x="1077" y="275.0" width="9" height="20.8" fill="#eb4d5c"/>
<rect x="1095" y="293.2" width="1" height="40.5" fill="#f29ca7"/>
<rect x="1091" y="295.0" width="9" height="28.0" fill="#eb4d5c"/>
<rect x="1109" y="316.0" width="1" height="73.8" fill="#f29ca7"/>
<rect x="1105" y="322.1" width="9" height="31.5" fill="#eb4d5c"/>
</g>
<g clip-path="url(#pr)">
<line x1="39.5" y1="439" x2="39.5" y2="637" stroke="#eff3f7" stroke-width="1"/>
<line x1="123.5" y1="439" x2="123.5" y2="637" stroke="#eff3f7" stroke-width="1"/>
<line x1="206.5" y1="439" x2="206.5" y2="637" stroke="#eff3f7" stroke-width="1"/>
<line x1="290.5" y1="439" x2="290.5" y2="637" stroke="#eff3f7" stroke-width="1"/>
<line x1="373.5" y1="439" x2="373.5" y2="637" stroke="#eff3f7" stroke-width="1"/>
<line x1="456.5" y1="439" x2="456.5" y2="637" stroke="#eff3f7" stroke-width="1"/>
<line x1="540.5" y1="439" x2="540.5" y2="637" stroke="#eff3f7" stroke-width="1"/>
<line x1="623.5" y1="439" x2="623.5" y2="637" stroke="#eff3f7" stroke-width="1"/>
<line x1="707.5" y1="439" x2="707.5" y2="637" stroke="#eff3f7" stroke-width="1"/>
<line x1="790.5" y1="439" x2="790.5" y2="637" stroke="#eff3f7" stroke-width="1"/>
<line x1="874.5" y1="439" x2="874.5" y2="637" stroke="#eff3f7" stroke-width="1"/>
<line x1="957.5" y1="439" x2="957.5" y2="637" stroke="#eff3f7" stroke-width="1"/>
<line x1="1041.5" y1="439" x2="1041.5" y2="637" stroke="#eff3f7" stroke-width="1"/>
<line x1="7" y1="465.5" x2="1125" y2="465.5" stroke="#eff3f7" stroke-width="1"/>
<line x1="7" y1="494.5" x2="1125" y2="494.5" stroke="#eff3f7" stroke-width="1"/>
<line x1="7" y1="524.5" x2="1125" y2="524.5" stroke="#eff3f7" stroke-width="1"/>
<line x1="7" y1="554.5" x2="1125" y2="554.5" stroke="#eff3f7" stroke-width="1"/>
<line x1="7" y1="583.5" x2="1125" y2="583.5" stroke="#eff3f7" stroke-width="1"/>
<line x1="7" y1="613.5" x2="1125" y2="613.5" stroke="#eff3f7" stroke-width="1"/>
<rect x="7" y="494.5" width="1118" height="119" fill="#c77ff0" fill-opacity="0.17"/>
<line x1="7" y1="494.5" x2="1125" y2="494.5" stroke="#d2cbdd" stroke-width="1" stroke-dasharray="3.4,2"/>
<line x1="7" y1="613.5" x2="1125" y2="613.5" stroke="#d2cbdd" stroke-width="1" stroke-dasharray="3.4,2"/>
<polyline points="6.5,521.8 10.5,520.8 24.5,515.5 38.5,513.1 52.5,523.4 66.5,505.5 80.5,487.5 94.5,493.4 108.5,483.1 122.5,483.1 136.5,493.4 149.5,475.2 163.5,482.5 177.5,477.2 191.5,466.0 205.5,456.0 219.5,453.7 233.5,452.2 247.5,449.2 261.5,477.2 275.5,473.4 289.5,462.5 302.5,457.3 316.5,458.2 330.5,455.0 344.5,474.6 358.5,500.0 372.5,493.4 386.5,495.4 400.5,515.0 414.5,497.1 428.5,488.5 442.5,494.2 455.5,491.9 469.5,489.9 483.5,483.3 497.5,483.3 511.5,480.4 525.5,522.2 539.5,542.4 553.5,536.6 567.5,531.4 581.5,545.3 595.5,574.1 608.5,580.5 622.5,558.3 636.5,551.3 650.5,549.3 664.5,566.3 678.5,561.4 692.5,558.3 706.5,530.3 720.5,530.3 734.5,522.5 748.5,516.4 761.5,555.4 775.5,530.3 789.5,544.4 803.5,541.2 817.5,565.2 831.5,561.4 845.5,560.2 859.5,563.4 873.5,549.4 887.5,561.5 901.5,586.1 914.5,589.6 928.5,606.4 942.5,608.1 956.5,580.0 970.5,588.4 984.5,600.6 998.5,610.4 1012.5,610.4 1026.5,610.4 1040.5,625.2 1054.5,612.2 1067.5,588.4 1081.5,596.3 1095.5,606.4 1109.5,615.1" fill="none" stroke="#c583d6" stroke-width="1.1" stroke-linejoin="round"/>
</g>
<rect x="6.5" y="43.5" width="1169" height="613" fill="none" stroke="#4a4a4a" stroke-width="1"/>
<line x1="1124.5" y1="43.5" x2="1124.5" y2="637.5" stroke="#4a4a4a" stroke-width="1"/>
<line x1="6.5" y1="438.3" x2="1175.5" y2="438.3" stroke="#4a4a4a" stroke-width="1.6"/>
<line x1="6.5" y1="637.5" x2="1175.5" y2="637.5" stroke="#4a4a4a" stroke-width="1"/>
<line x1="1125" y1="51.5" x2="1129" y2="51.5" stroke="#4a4a4a" stroke-width="1"/>
<text x="1131" y="55.5" class="ax">8000.00</text>
<line x1="1125" y1="101.5" x2="1129" y2="101.5" stroke="#4a4a4a" stroke-width="1"/>
<text x="1131" y="105.5" class="ax">7600.00</text>
<line x1="1125" y1="155.5" x2="1129" y2="155.5" stroke="#4a4a4a" stroke-width="1"/>
<text x="1131" y="159.5" class="ax">7200.00</text>
<line x1="1125" y1="211.5" x2="1129" y2="211.5" stroke="#4a4a4a" stroke-width="1"/>
<text x="1131" y="215.5" class="ax">6800.00</text>
<line x1="1125" y1="240.5" x2="1129" y2="240.5" stroke="#4a4a4a" stroke-width="1"/>
<text x="1131" y="244.5" class="ax">6600.00</text>
<line x1="1125" y1="270.5" x2="1129" y2="270.5" stroke="#4a4a4a" stroke-width="1"/>
<text x="1131" y="274.5" class="ax">6400.00</text>
<line x1="1125" y1="302.5" x2="1129" y2="302.5" stroke="#4a4a4a" stroke-width="1"/>
<text x="1131" y="306.5" class="ax">6200.00</text>
<line x1="1125" y1="334.5" x2="1129" y2="334.5" stroke="#4a4a4a" stroke-width="1"/>
<text x="1131" y="338.5" class="ax">6000.00</text>
<line x1="1125" y1="367.5" x2="1129" y2="367.5" stroke="#4a4a4a" stroke-width="1"/>
<text x="1131" y="371.5" class="ax">5800.00</text>
<line x1="1125" y1="395.5" x2="1129" y2="395.5" stroke="#4a4a4a" stroke-width="1"/>
<text x="1131" y="399.5" class="ax">5640.00</text>
<line x1="1125" y1="423.5" x2="1129" y2="423.5" stroke="#4a4a4a" stroke-width="1"/>
<text x="1131" y="427.5" class="ax">5480.00</text>
<line x1="1125" y1="465.5" x2="1129" y2="465.5" stroke="#4a4a4a" stroke-width="1"/>
<text x="1131" y="469.5" class="ax">80.0000</text>
<line x1="1125" y1="494.5" x2="1129" y2="494.5" stroke="#4a4a4a" stroke-width="1"/>
<text x="1131" y="498.5" class="ax">70.0000</text>
<line x1="1125" y1="524.5" x2="1129" y2="524.5" stroke="#4a4a4a" stroke-width="1"/>
<text x="1131" y="528.5" class="ax">60.0000</text>
<line x1="1125" y1="554.5" x2="1129" y2="554.5" stroke="#4a4a4a" stroke-width="1"/>
<text x="1131" y="558.5" class="ax">50.0000</text>
<line x1="1125" y1="583.5" x2="1129" y2="583.5" stroke="#4a4a4a" stroke-width="1"/>
<text x="1131" y="587.5" class="ax">40.0000</text>
<line x1="1125" y1="613.5" x2="1129" y2="613.5" stroke="#4a4a4a" stroke-width="1"/>
<text x="1131" y="617.5" class="ax">30.0000</text>
<rect x="1124" y="346.3" width="51.5" height="15.5" fill="#eb4d5c"/>
<line x1="1124" y1="353.5" x2="1127.500" y2="353.5" stroke="#fff" stroke-width="1"/>
<text x="1131" y="357.6" class="ax" style="fill:#fff">5886.35</text>
<rect x="1140.2" y="363.3" width="35.3" height="15.6" fill="#eb4d5c"/>
<text x="1143" y="374.4" class="ax" style="fill:#fff">08:15</text>
<g clip-path="url(#pm)"><g filter="url(#ash)"><polygon points="471.4,131.9 510.6,151.5 549.7,171.1 588.8,190.7 627.9,210.4 667.0,230.1 706.1,249.8 745.1,269.6 784.1,289.4 823.1,309.3 862.1,329.2 901.1,349.1 940.0,369.1 978.9,389.1 1017.8,409.1 1011.1,416.7 1049.7,416.6 1026.3,385.9 1024.4,395.9 984.8,377.1 945.3,358.4 905.8,339.6 866.2,320.8 826.8,301.9 787.3,283.0 747.8,264.1 708.4,245.1 669.0,226.1 629.6,207.0 590.2,188.0 550.8,168.8 511.5,149.7 472.2,130.5" fill="#ff2600" stroke="#ff2600" stroke-width="1" stroke-linejoin="round"/>
<polygon points="468.1,62.0 466.4,86.8 460.4,84.8 468.9,102.3 477.4,84.8 471.4,86.8 469.7,62.0" fill="#ff2600" stroke="#ff2600" stroke-width="0.6" stroke-linejoin="round"/>
<polygon points="471.0,240.6 472.7,213.8 478.7,215.8 470.2,198.3 461.7,215.8 467.7,213.8 469.4,240.6" fill="#ff2600" stroke="#ff2600" stroke-width="0.6" stroke-linejoin="round"/>
</g></g>
<g filter="url(#sh)">
<rect x="854.7" y="642.9" width="146.3" height="32.4" rx="16.2" fill="#fff"/>
<rect x="856.2" y="644.4" width="143.3" height="29.4" rx="14.7" fill="#232325"/>
<g stroke="#fff" stroke-width="3.2" stroke-linejoin="round" fill="#fc9318"><polygon points="1003.0,634.3 1013.8,624.3 1032.6,626.4 1034.6,645.4 1025.3,655.0 999.5,659.6"/><circle cx="999.55" cy="659.60" r="25.9"/></g>
<g fill="#fc9318"><polygon points="1003.0,634.3 1013.8,624.3 1032.6,626.4 1034.6,645.4 1025.3,655.0 999.5,659.6" stroke="#fc9318" stroke-width="1" stroke-linejoin="round"/><circle cx="999.55" cy="659.60" r="25.9"/></g>
</g>
<circle cx="999.55" cy="659.60" r="19.1" fill="#fff"/>
<circle cx="999.55" cy="659.60" r="17.9" fill="none" stroke="#c6c6c6" stroke-width="0.9"/>
<path d="M996.95 650.30 q0 -1.8 2.6 -1.8 q2.6 0 2.600 1.800 l-1.200 13.400 h-2.800 z" fill="#fc9318"/>
<circle cx="999.55" cy="668.10" r="2.35" fill="#fc9318"/>
<text x="872.5" y="666.2" class="co" textLength="89.9" lengthAdjust="spacing">RSI below 30</text>
<line x1="39.5" y1="638" x2="39.5" y2="642" stroke="#4a4a4a" stroke-width="1"/>
<text x="39.5" y="652" class="ax" text-anchor="middle">31</text>
<line x1="123.5" y1="638" x2="123.5" y2="642" stroke="#4a4a4a" stroke-width="1"/>
<text x="123.5" y="652" class="ax" text-anchor="middle">Nov</text>
<line x1="206.5" y1="638" x2="206.5" y2="642" stroke="#4a4a4a" stroke-width="1"/>
<text x="206.5" y="652" class="ax" text-anchor="middle">2</text>
<line x1="290.5" y1="638" x2="290.5" y2="642" stroke="#4a4a4a" stroke-width="1"/>
<text x="290.5" y="652" class="ax" text-anchor="middle">3</text>
<line x1="373.5" y1="638" x2="373.5" y2="642" stroke="#4a4a4a" stroke-width="1"/>
<text x="373.5" y="652" class="ax" text-anchor="middle">4</text>
<line x1="456.5" y1="638" x2="456.5" y2="642" stroke="#4a4a4a" stroke-width="1"/>
<text x="456.5" y="652" class="ax" text-anchor="middle">5</text>
<line x1="540.5" y1="638" x2="540.5" y2="642" stroke="#4a4a4a" stroke-width="1"/>
<text x="540.5" y="652" class="ax" text-anchor="middle">6</text>
<line x1="623.5" y1="638" x2="623.5" y2="642" stroke="#4a4a4a" stroke-width="1"/>
<text x="623.5" y="652" class="ax" text-anchor="middle">7</text>
<line x1="707.5" y1="638" x2="707.5" y2="642" stroke="#4a4a4a" stroke-width="1"/>
<text x="707.5" y="652" class="ax" text-anchor="middle">8</text>
<line x1="790.5" y1="638" x2="790.5" y2="642" stroke="#4a4a4a" stroke-width="1"/>
<text x="790.5" y="652" class="ax" text-anchor="middle">9</text>
<line x1="874.5" y1="638" x2="874.5" y2="642" stroke="#4a4a4a" stroke-width="1"/>
<text x="874.5" y="652" class="ax" text-anchor="middle" style="fill:#0b0b0b">10</text>
<line x1="957.5" y1="638" x2="957.5" y2="642" stroke="#4a4a4a" stroke-width="1"/>
<text x="957.5" y="652" class="ax" text-anchor="middle" style="fill:#0b0b0b">11</text>
<line x1="1041.5" y1="638" x2="1041.5" y2="642" stroke="#4a4a4a" stroke-width="1"/>
<text x="1041.5" y="652" class="ax" text-anchor="middle">12</text>
<g filter="url(#sh)">
<rect x="59.2" y="501.7" width="147.4" height="32.4" rx="16.2" fill="#fff"/>
<rect x="60.7" y="503.2" width="144.4" height="29.4" rx="14.7" fill="#232325"/>
<g stroke="#fff" stroke-width="3.2" stroke-linejoin="round" fill="#fc9318"><polygon points="208.7,493.1 219.3,483.1 238.2,485.2 240.2,504.2 231.0,513.8 205.2,518.4"/><circle cx="205.15" cy="518.40" r="25.9"/></g>
<g fill="#fc9318"><polygon points="208.7,493.1 219.3,483.1 238.2,485.2 240.2,504.2 231.0,513.8 205.2,518.4" stroke="#fc9318" stroke-width="1" stroke-linejoin="round"/><circle cx="205.15" cy="518.40" r="25.9"/></g>
</g>
<circle cx="205.15" cy="518.40" r="19.1" fill="#fff"/>
<circle cx="205.15" cy="518.40" r="17.9" fill="none" stroke="#c6c6c6" stroke-width="0.9"/>
<path d="M202.55 509.10 q0 -1.8 2.6 -1.8 q2.6 0 2.600 1.800 l-1.200 13.400 h-2.800 z" fill="#fc9318"/>
<circle cx="205.15" cy="526.90" r="2.35" fill="#fc9318"/>
<text x="78.4" y="525.0" class="co" textLength="90.3" lengthAdjust="spacing">RSI above 70</text>
<g filter="url(#sh)">
<rect x="265.3" y="44.8" width="154.2" height="32.4" rx="16.2" fill="#fff"/>
<rect x="266.8" y="46.2" width="151.2" height="29.4" rx="14.7" fill="#232325"/>
<g stroke="#fff" stroke-width="3.2" stroke-linejoin="round" fill="#fc9318"><polygon points="421.5,86.8 432.2,96.8 451.1,94.7 453.1,75.7 443.8,66.1 418.0,61.5"/><circle cx="418.00" cy="61.50" r="25.9"/></g>
<g fill="#fc9318"><polygon points="421.5,86.8 432.2,96.8 451.1,94.7 453.1,75.7 443.8,66.1 418.0,61.5" stroke="#fc9318" stroke-width="1" stroke-linejoin="round"/><circle cx="418.00" cy="61.50" r="25.9"/></g>
</g>
<circle cx="418.00" cy="61.50" r="19.1" fill="#fff"/>
<circle cx="418.00" cy="61.50" r="17.9" fill="none" stroke="#c6c6c6" stroke-width="0.9"/>
<path d="M415.40 52.20 q0 -1.8 2.6 -1.8 q2.6 0 2.600 1.800 l-1.200 13.400 h-2.800 z" fill="#fc9318"/>
<circle cx="418.00" cy="70.00" r="2.35" fill="#fc9318"/>
<text x="284.4" y="68.9" class="co" textLength="98.1" lengthAdjust="spacing">Band squeeze</text>
</svg>
<div class="hd" style="left:6px;top:3.8px" id="h1">Published on TradingView.com, March 24, 2018 15:51 UTC</div>
<div class="hd" style="left:6.8px;top:21.8px;font-size:12.2px;letter-spacing:-.52px" id="h2"><b>COINBASE:BTCUSD, 240</b></div>
<div class="hd" style="left:149.4px;top:21.8px">8941.15</div>
<svg style="position:absolute;left:197.6px;top:24.6px" width="12" height="11" viewBox="0 0 12 11"><path d="M6 0.3L11.800 10.300H0.200z" fill="#1ca61c"/></svg>
<div class="hd" style="left:212.5px;top:21.8px;letter-spacing:-.16px">+14.05 (+0.16%)</div>
<div class="hd" style="left:308px;top:21.8px"><b>O:</b></div><div class="hd g" style="left:322.6px;top:21.8px">8719.00</div>
<div class="hd" style="left:372.6px;top:21.8px"><b>H:</b></div><div class="hd g" style="left:386.2px;top:21.8px">8999.00</div>
<div class="hd" style="left:436.6px;top:21.8px"><b>L:</b></div><div class="hd g" style="left:447.5px;top:21.8px">8666.81</div>
<div class="hd" style="left:497.5px;top:21.8px"><b>C:</b></div><div class="hd g" style="left:509px;top:21.8px">8941.15</div>
<div class="note red" style="left:377.4px;top:247.6px;letter-spacing:.245px" id="n1">Bollinger bands squeeze together
a breakout is on the cards!
And RSI still showing overbought
conditions
Short the market!</div>
<div class="note grn" style="left:55.9px;top:335.2px;line-height:22.25px;letter-spacing:.265px" id="n2">RSI indicates overbought conditions,
Bollinger bands still in expansion
phase

The indicators conflict =&gt; do nothing</div>
<div class="note red" style="left:973.7px;top:488.2px" id="n3">RSI indicates
oversold conditions
Consider flattening
your position</div>
<div class="hd" style="left:6.1px;top:668px;font-size:12.8px" id="ft">Created with</div>
<svg style="position:absolute;left:87.5px;top:666.5px" width="25" height="15" viewBox="0 0 25 15"><g fill="#55bfe6"><circle cx="3.7" cy="11.2" r="3.3"/><circle cx="11.1" cy="5.4" r="5.2"/><circle cx="17.2" cy="7.2" r="3.4"/><circle cx="20.8" cy="10.9" r="3.6"/><rect x="3.7" y="8" width="17.1" height="6.5"/></g><path d="M1 12.300L9.100 5.700 14.500 12.900 21.600 5" stroke="#f3f6f8" stroke-width="1.500" fill="none"/></svg>
<div class="hd" style="left:118.4px;top:668px;font-size:12.8px;color:#3ba9dd" id="tv">TradingView</div>
</body></html>
